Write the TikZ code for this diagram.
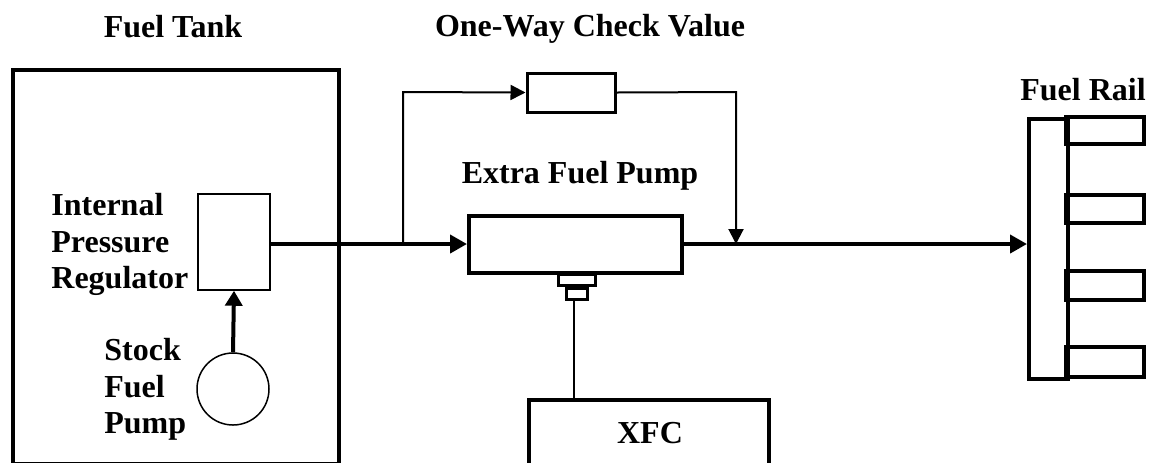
\documentclass[tikz,border=0pt]{standalone}
\usepackage{fontspec}
\setmainfont{Liberation Serif}
\usetikzlibrary{arrows.meta}
\begin{document}
\begin{tikzpicture}[x=0.5pt,y=-0.5pt,
  lbl/.style={font=\fontsize{16}{18}\selectfont\bfseries, inner sep=0pt},
  thickbox/.style={draw, line width=2pt, fill=white},
  thinbox/.style={draw, line width=0.75pt, fill=white},
  pipe/.style={line width=2pt, -{Triangle[length=8.5pt,width=9pt]}},
  bypass/.style={line width=1pt, -{Triangle[length=7.5pt,width=7.5pt]}},
  wire/.style={line width=0.75pt}]
\useasboundingbox (0,0) rectangle (1149,462);
% fuel tank
\draw[line width=2pt] (13,70) rectangle (339,464);
% labels
\node[lbl, anchor=base] (lt) at (173,37) {Fuel Tank};
\node[lbl, anchor=base] (lv) at (590,36) {One-Way Check Value};
\node[lbl, anchor=base] (lr) at (1083,100) {Fuel Rail};
\node[lbl, anchor=base] (lp) at (580,183) {Extra Fuel Pump};
\node[lbl, anchor=base west] (i1) at (51,215) {Internal};
\node[lbl, anchor=base west] (i2) at (51,252) {Pressure};
\node[lbl, anchor=base west] (i3) at (51,288) {Regulator};
\node[lbl, anchor=base west] (s1) at (104,360) {Stock};
\node[lbl, anchor=base west] (s2) at (104,397) {Fuel};
\node[lbl, anchor=base west] (s3) at (104,433) {Pump};
% regulator and stock pump
\node[thinbox, minimum width=36pt, minimum height=48pt, inner sep=0pt] (reg) at (234,242) {};
\node[draw, circle, line width=0.75pt, minimum size=36pt, inner sep=0pt] (sp) at (233,389) {};
\draw[line width=2pt, -{Triangle[length=7.5pt,width=8.5pt]}] (sp.north) -- (reg.south);
% extra pump
\node[thickbox, minimum width=106.5pt, minimum height=28.5pt, inner sep=0pt] (pump) at (575.5,244.5) {};
% check valve
\node[draw, line width=1.5pt, minimum width=44pt, minimum height=19.5pt, inner sep=0pt] (valve) at (571,92.5) {};
% connector under pump
\node[draw, line width=1.5pt, minimum width=18.5pt, minimum height=5.5pt, inner sep=0pt, anchor=north] (c1) at (576.5,273) {};
\node[draw, line width=1.5pt, minimum width=10.5pt, minimum height=5.5pt, inner sep=0pt, anchor=north] (c2) at (c1.south) {};
% XFC
\draw[line width=2pt] (529,466) -- (529,400) -- (769,400) -- (769,466);
\node[lbl, anchor=base] (xfc) at (650,443) {XFC};
\coordinate (xtop) at (574,400);
\draw[wire] (c2.south -| xtop) -- (xtop);
% fuel rail
\node[draw, line width=2pt, minimum width=19.5pt, minimum height=130pt, inner sep=0pt, anchor=north west] (rail) at (1027,117) {};
\foreach \a/\b in {117/144,195/223,271/300,347/377}{
  \draw[line width=2pt] (1066,\a) rectangle (1144,\b);
}
% pipes
\coordinate (br) at (403,244);
\coordinate (mg) at (736,244);
\draw[line width=2pt] (reg.east |- br) -- (br);
\draw[pipe] (br) -- (pump.west |- br);
\draw[bypass] (br) -- (403,92) -- (valve.west);
\draw[bypass] (valve.east) -- (736,92) -- (mg);
\draw[pipe] (pump.east |- mg) -- (rail.west |- mg);
\end{tikzpicture}
\end{document}
